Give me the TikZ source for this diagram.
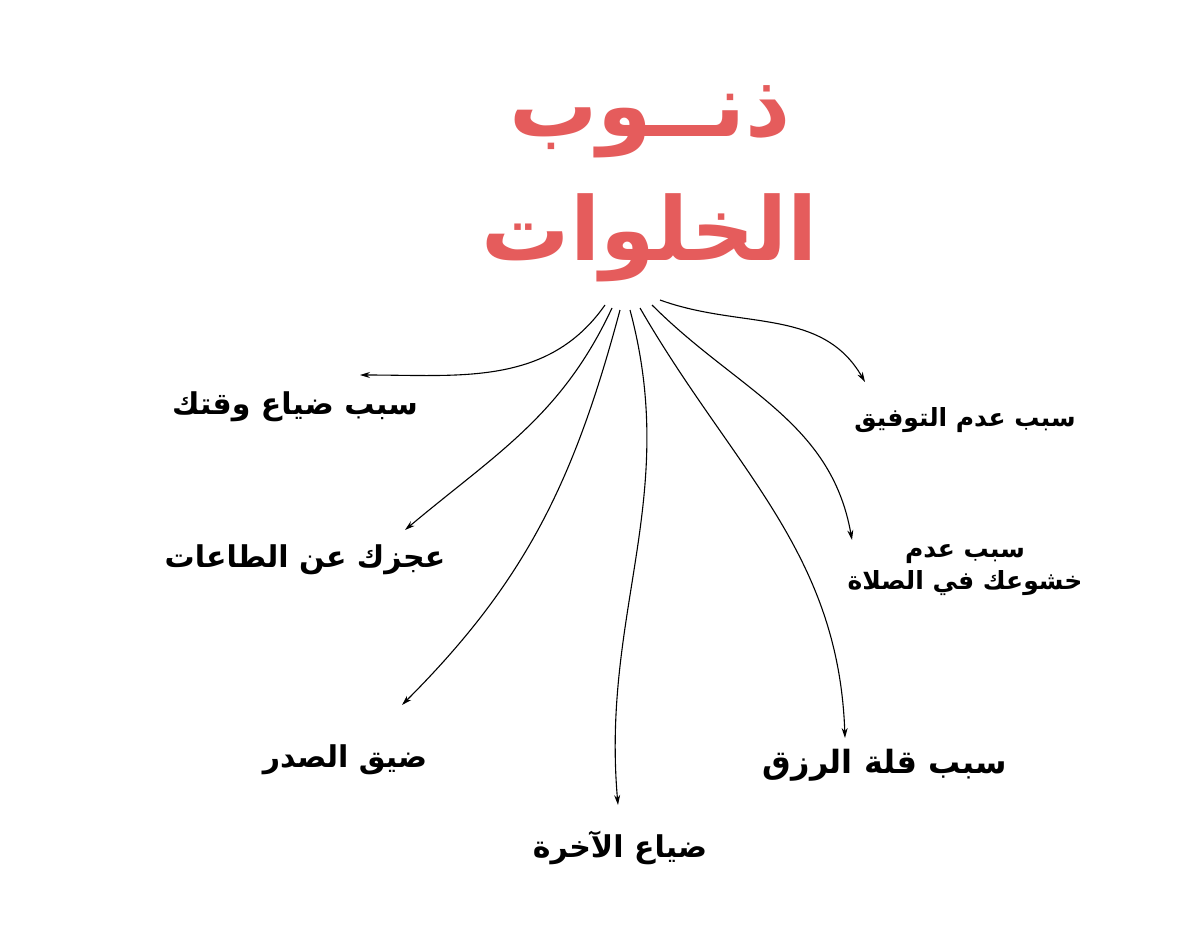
\documentclass[tikz,border=0pt]{standalone}
\usepackage{fontspec}
\newfontfamily\arabicfont[Script=Arabic]{DejaVu Sans}
\TeXXeTstate=1
\usetikzlibrary{arrows.meta}
\begin{document}
\begin{tikzpicture}[x=1pt,y=-1pt,
  lab/.style={font=\arabicfont\bfseries\fontsize{30}{34}\selectfont, align=center},
  ttl/.style={font=\arabicfont\bfseries\fontsize{88}{96}\selectfont, text=red!60!white!90!black},
  conn/.style={-{Stealth[length=10pt,width=6pt]}, line width=1.1pt}]
\useasboundingbox (0,0) rectangle (1200,934);
\fill[white] (0,0) rectangle (1200,934);
\node[ttl] (t1) at (650,122) {\beginR ذنــوب\endR};
\node[ttl] (t2) at (650,238) {\beginR الخلوات\endR};
\coordinate (s1) at (605,305);
\coordinate (s2) at (612,308);
\coordinate (s3) at (620,310);
\coordinate (s4) at (630,310);
\coordinate (s5) at (640,308);
\coordinate (s6) at (652,305);
\coordinate (s7) at (660,300);
\node[lab] (a) at (295,407) {\beginR سبب ضياع وقتك\endR};
\node[lab] (b) at (305,560) {\beginR عجزك عن الطاعات\endR};
\node[lab] (c) at (345,760) {\beginR ضيق الصدر\endR};
\node[lab] (d) at (620,848) {\beginR ضياع الآخرة\endR};
\node[lab, font=\arabicfont\bfseries\fontsize{32}{36}\selectfont] (e) at (885,765) {\beginR سبب قلة الرزق\endR};
\node[lab, font=\arabicfont\bfseries\fontsize{25}{32}\selectfont] (f) at (965,570) {\beginR سبب عدم\endR\\\beginR خشوعك في الصلاة\endR};
\node[lab, font=\arabicfont\bfseries\fontsize{25}{32}\selectfont] (g) at (965,420) {\beginR سبب عدم التوفيق\endR};
\coordinate (ea) at (360,375);
\coordinate (eb) at (405,530);
\coordinate (ec) at (402,705);
\coordinate (ed) at (618,805);
\coordinate (ee) at (845,738);
\coordinate (ef) at (852,540);
\coordinate (eg) at (865,382);
\draw[conn] (s1) to[out=235,in=0] (ea);
\draw[conn] (s2) to[out=245,in=40] (eb);
\draw[conn] (s3) to[out=255,in=45] (ec);
\draw[conn] (s4) to[out=285,in=95] (ed);
\draw[conn] (s5) to[out=300,in=92] (ee);
\draw[conn] (s6) to[out=315,in=100] (ef);
\draw[conn] (s7) to[out=340,in=120] (eg);
\end{tikzpicture}
\end{document}
